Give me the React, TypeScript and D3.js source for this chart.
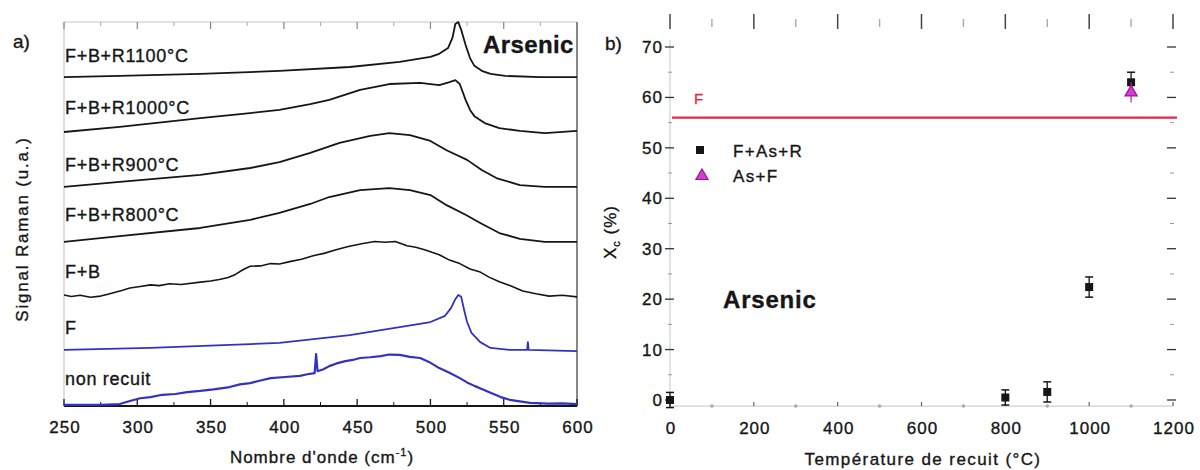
import React from "react";
import * as d3 from "d3";

// ---------- Panel a) Raman spectra ----------
const wnR1100 = [250, 288, 343, 397, 445, 479, 500, 506, 512, 515, 517, 519, 521, 524, 527, 530, 535, 541, 551, 575, 600];
const vR1100 = [85.0, 85.3, 85.8, 86.6, 87.6, 88.9, 90.2, 91.0, 92.5, 95.1, 98.7, 99.2, 97.2, 93.3, 89.9, 87.9, 86.6, 85.8, 85.3, 85.0, 85.0];

const wnR1000 = [250, 288, 343, 377, 397, 418, 431, 452, 472, 493, 506, 513, 517, 520, 524, 527, 530, 537, 547, 561, 578, 600];
const vR1000 = [70.8, 72.1, 74.4, 75.7, 76.5, 78.0, 79.1, 81.7, 83.2, 83.5, 82.9, 83.7, 84.2, 83.2, 79.1, 76.5, 74.9, 73.1, 71.8, 71.1, 70.5, 71.1];

const wnR900 = [250, 288, 343, 377, 397, 418, 438, 459, 472, 486, 500, 511, 525, 535, 545, 561, 578, 600];
const vR900 = [56.6, 57.9, 59.7, 61.5, 63.0, 65.4, 68.0, 69.8, 70.5, 70.0, 68.5, 66.1, 63.6, 61.0, 58.9, 57.1, 56.6, 56.6];

const wnR800 = [250, 288, 343, 377, 397, 418, 431, 452, 472, 486, 500, 511, 524, 534, 547, 561, 578, 600];
const vR800 = [42.4, 43.9, 46.0, 48.1, 49.9, 52.2, 54.0, 55.8, 56.3, 55.8, 54.5, 51.9, 49.4, 47.3, 44.7, 43.2, 42.4, 42.4];

const wnFB = [250, 255, 261, 268, 275, 280, 285, 290, 295, 302, 309, 315, 322, 330, 343, 350, 356, 362, 367, 372, 377, 384, 391, 397, 404, 412, 420, 428, 435, 444, 454, 462, 469, 476, 484, 490, 496, 501, 506, 513, 520, 527, 534, 540, 547, 555, 563, 572, 581, 590, 600];
const vFB = [28.7, 28.3, 28.6, 28.1, 28.4, 28.9, 29.4, 29.9, 30.5, 30.9, 31.3, 31.1, 31.6, 31.4, 32.0, 32.3, 32.7, 33.2, 34.0, 35.2, 36.1, 36.2, 36.8, 36.7, 37.3, 37.9, 38.8, 39.5, 40.3, 41.2, 42.0, 42.5, 42.3, 42.5, 41.4, 41.0, 40.4, 39.7, 39.1, 37.7, 36.8, 35.4, 34.6, 33.3, 32.1, 31.0, 29.7, 29.0, 28.4, 28.6, 28.2];

const wnF = [250, 309, 377, 397, 445, 479, 500, 510, 514, 517, 519, 521, 523, 525, 528, 534, 541, 554, 566, 566.5, 567, 600];
const vF = [14.5, 15.0, 16.0, 16.3, 18.3, 20.4, 21.7, 23.3, 25.3, 27.6, 28.7, 28.2, 24.8, 21.7, 18.9, 16.5, 15.0, 14.5, 14.5, 16.5, 14.5, 14.2];

const wnNR = [250, 275, 288, 295, 302, 309, 317, 326, 334, 343, 352, 363, 370, 377, 384, 391, 401, 411, 416, 421, 422, 423, 427, 431, 436, 442, 447, 452, 459, 466, 472, 479, 486, 493, 499, 506, 513, 520, 525, 530, 535, 541, 548, 554, 561, 568, 580, 590, 600];
const vNR = [0.3, 0.3, 0.5, 1.3, 2.0, 2.3, 2.9, 3.1, 3.6, 3.9, 4.3, 4.9, 5.6, 5.9, 6.6, 7.2, 7.5, 7.8, 8.2, 8.5, 13.4, 9.0, 9.5, 10.3, 11.0, 11.6, 11.9, 12.4, 12.6, 12.9, 13.3, 13.2, 12.7, 12.4, 11.4, 9.8, 8.6, 7.2, 6.1, 5.2, 4.4, 3.4, 2.3, 1.6, 1.2, 0.8, 0.6, 0.7, 0.5];

const spectraLabels = ["F+B+R1100°C", "F+B+R1000°C", "F+B+R900°C", "F+B+R800°C", "F+B", "F", "non recuit"];
const labelLevels = [89.0, 75.5, 60.7, 47.8, 33.1, 18.6, 5.4];
const wnTicks = [250, 300, 350, 400, 450, 500, 550, 600];

// ---------- Panel b) crystalline fraction ----------
const tempFAsR = [0, 800, 900, 1000, 1100];
const xcFAsR = [0.0, 0.5, 1.6, 22.4, 63.0];
const errFAsR = [1.5, 1.5, 2.0, 2.0, 2.0];
const tempAsF = [1100];
const xcAsF = [61.0];
const errAsF = [2.0];
const xcF = 56;
const tempTicks = [0, 200, 400, 600, 800, 1000, 1200];
const xcTicks = [0, 10, 20, 30, 40, 50, 60, 70];

const FONT = "'Liberation Sans', Arial, sans-serif";
const BLUE = "#3232c0";
const INK = "#161616";
const txt = { fill: INK, stroke: INK, strokeWidth: 0.35 };

export default function App() {
  const ax = d3.scaleLinear().domain([250, 600]).range([64, 577]);
  const ay = d3.scaleLinear().domain([0, 100]).range([406, 19]);
  const bx = d3.scaleLinear().domain([0, 1200]).range([670, 1173]);
  const by = d3.scaleLinear().domain([0, 70]).range([400, 47]);

  const mk = (xs: number[], ys: number[]) =>
    d3.line<number>().x((_, i) => ax(xs[i])).y((_, i) => ay(ys[i]))(xs) || "";

  const spectra = [
    { xs: wnR1100, ys: vR1100, c: INK, w: 1.8 },
    { xs: wnR1000, ys: vR1000, c: INK, w: 1.8 },
    { xs: wnR900, ys: vR900, c: INK, w: 1.8 },
    { xs: wnR800, ys: vR800, c: INK, w: 1.8 },
    { xs: wnFB, ys: vFB, c: INK, w: 1.6 },
    { xs: wnF, ys: vF, c: BLUE, w: 1.8 },
    { xs: wnNR, ys: vNR, c: BLUE, w: 2.2 },
  ];

  const minorWn = d3.range(275, 600, 50);
  const minorT = d3.range(100, 1200, 200);
  const minorXc = d3.range(5, 75, 10);
  const axisBottomB = by(-1.2);
  const tri = d3.symbol(d3.symbolTriangle, 64)() || "";

  return (
    <svg width={1200} height={470} style={{ position: "absolute", left: 0, top: 0, background: "#fff" }} fontFamily={FONT}>
      {/* ===== Panel a ===== */}
      <text x={13} y={48} fontSize={19} {...txt}>a)</text>
      <line x1={ax(250)} x2={ax(600)} y1={22} y2={22} stroke="#c4c4c4" strokeWidth={1.2} />
      <line x1={ax(250)} x2={ax(250)} y1={22} y2={406} stroke="#c8c8c8" strokeWidth={1.2} />
      <line x1={ax(600)} x2={ax(600)} y1={22} y2={406} stroke="#555" strokeWidth={1.4} />
      <line x1={ax(250)} x2={ax(600)} y1={406} y2={406} stroke={INK} strokeWidth={1.8} />
      {wnTicks.map((t) => (
        <g key={"at" + t}>
          <line x1={ax(t)} x2={ax(t)} y1={406} y2={399} stroke={INK} strokeWidth={1.3} />
          <line x1={ax(t)} x2={ax(t)} y1={22} y2={29} stroke="#888" strokeWidth={1.2} />
          <text x={ax(t) + 1} y={433} fontSize={17} letterSpacing={1} textAnchor="middle" {...txt}>{t}</text>
        </g>
      ))}
      {minorWn.map((t) => (
        <g key={"am" + t}>
          <line x1={ax(t)} x2={ax(t)} y1={406} y2={402} stroke={INK} strokeWidth={1} />
          <line x1={ax(t)} x2={ax(t)} y1={22} y2={26} stroke="#aaa" strokeWidth={1} />
        </g>
      ))}
      {spectra.map((s, i) => (
        <path key={"sp" + i} d={mk(s.xs, s.ys)} fill="none" stroke={s.c} strokeWidth={s.w} strokeLinejoin="round" />
      ))}
      {spectraLabels.map((l, i) => (
        <text key={"lb" + i} x={65} y={ay(labelLevels[i])} fontSize={18} letterSpacing={0.7} {...txt}>{l}</text>
      ))}
      <text x={483} y={53} fontSize={24} letterSpacing={0.4} fontWeight="bold" {...txt}>Arsenic</text>
      <text transform="translate(28,229) rotate(-90)" fontSize={17} letterSpacing={1.8} textAnchor="middle" {...txt}>Signal Raman (u.a.)</text>
      <text x={322} y={463} fontSize={17} letterSpacing={1} textAnchor="middle" {...txt}>
        Nombre d'onde (cm<tspan dy={-7} fontSize={11}>-1</tspan><tspan dy={7}>)</tspan>
      </text>

      {/* ===== Panel b ===== */}
      <text x={605} y={50} fontSize={19} {...txt}>b)</text>
      <line x1={bx(0)} x2={bx(0)} y1={40} y2={axisBottomB} stroke="#d0d0d0" strokeWidth={1.2} />
      <line x1={bx(0)} x2={bx(1200)} y1={axisBottomB} y2={axisBottomB} stroke="#d0d0d0" strokeWidth={1.2} />
      {xcTicks.map((t) => (
        <g key={"by" + t}>
          <line x1={bx(0) - 5} x2={bx(0) + 4} y1={by(t)} y2={by(t)} stroke="#333" strokeWidth={1.3} />
          <line x1={bx(1200) - 6} x2={bx(1200) + 3} y1={by(t)} y2={by(t)} stroke="#333" strokeWidth={1.3} />
          <text x={bx(0) - 7} y={by(t) + 6} fontSize={17} letterSpacing={1} textAnchor="end" {...txt}>{t}</text>
        </g>
      ))}
      {minorXc.map((t) => (
        <g key={"bym" + t}>
          <line x1={bx(0) - 2} x2={bx(0) + 2} y1={by(t)} y2={by(t)} stroke="#999" strokeWidth={1} />
          <line x1={bx(1200) - 3} x2={bx(1200) + 1} y1={by(t)} y2={by(t)} stroke="#999" strokeWidth={1} />
        </g>
      ))}
      {tempTicks.map((t) => (
        <g key={"bx" + t}>
          <line x1={bx(t)} x2={bx(t)} y1={axisBottomB} y2={axisBottomB - 4} stroke="#666" strokeWidth={1.2} />
          <line x1={bx(t)} x2={bx(t)} y1={14} y2={29} stroke="#444" strokeWidth={1.5} />
          <text x={bx(t) + 1} y={434} fontSize={17} letterSpacing={1} textAnchor="middle" {...txt}>{t}</text>
        </g>
      ))}
      {minorT.map((t) => (
        <g key={"bxm" + t}>
          <circle cx={bx(t)} cy={axisBottomB} r={1.8} fill="#aaa" />
          <line x1={bx(t)} x2={bx(t)} y1={19} y2={27} stroke="#aaa" strokeWidth={1.4} />
        </g>
      ))}
      <line x1={bx(0) + 2} x2={bx(1200) + 4} y1={by(xcF)} y2={by(xcF)} stroke="#e0284c" strokeWidth={2.2} />
      <text x={694} y={104} fontSize={15} fill="#e0284c" stroke="#e0284c" strokeWidth={0.3}>F</text>
      {tempFAsR.map((t, i) => (
        <g key={"sq" + i}>
          <line x1={bx(t)} x2={bx(t)} y1={by(xcFAsR[i] - errFAsR[i])} y2={by(xcFAsR[i] + errFAsR[i])} stroke={INK} strokeWidth={1.3} />
          <line x1={bx(t) - 4} x2={bx(t) + 4} y1={by(xcFAsR[i] - errFAsR[i])} y2={by(xcFAsR[i] - errFAsR[i])} stroke={INK} strokeWidth={1.5} />
          <line x1={bx(t) - 4} x2={bx(t) + 4} y1={by(xcFAsR[i] + errFAsR[i])} y2={by(xcFAsR[i] + errFAsR[i])} stroke={INK} strokeWidth={1.5} />
          <rect x={bx(t) - 4} y={by(xcFAsR[i]) - 4} width={8} height={8} fill={INK} />
        </g>
      ))}
      {tempAsF.map((t, i) => {
        const cx = bx(t);
        const cy = by(xcAsF[i]);
        return (
          <g key={"tr" + i}>
            <line x1={cx} x2={cx} y1={by(xcAsF[i] - errAsF[i])} y2={by(xcAsF[i] + errAsF[i])} stroke="#b020b0" strokeWidth={1.2} />
            <path d={tri} transform={`translate(${cx},${cy})`} fill="#d040d0" stroke="#a010a0" strokeWidth={1.2} />
          </g>
        );
      })}
      <rect x={696} y={146} width={8} height={8} fill={INK} />
      <text x={733} y={157} fontSize={17} letterSpacing={1.3} {...txt}>F+As+R</text>
      <path d={tri} transform="translate(702,176)" fill="#d040d0" stroke="#a010a0" strokeWidth={1.2} />
      <text x={733} y={182} fontSize={17} letterSpacing={1.3} {...txt}>As+F</text>
      <text x={723} y={308} fontSize={24} letterSpacing={0.8} fontWeight="bold" {...txt}>Arsenic</text>
      <text transform="translate(616,232) rotate(-90)" fontSize={17} letterSpacing={1} textAnchor="middle" {...txt}>
        X<tspan dy={4} fontSize={11}>c</tspan><tspan dy={-4}> (%)</tspan>
      </text>
      <text x={923} y={465} fontSize={17} letterSpacing={1.4} textAnchor="middle" {...txt}>Température de recuit (°C)</text>
    </svg>
  );
}
